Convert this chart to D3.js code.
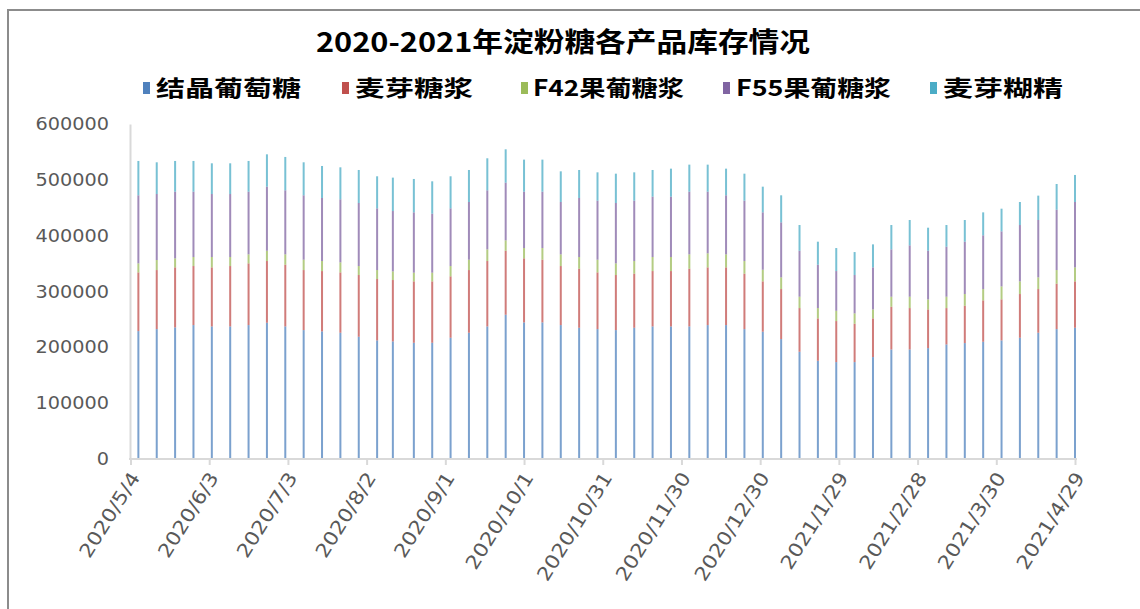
<!DOCTYPE html>
<html>
<head>
<meta charset="utf-8">
<script src="https://cdn.jsdelivr.net/npm/d3@7"></script>
<style>
  body { margin: 0; background: #fff; }
  svg { display: block; }
</style>
</head>
<body>
<svg id="chart" width="1140" height="609"></svg>
<script>
// weekly stock dates (Thursdays)
var dates = ["2020-05-07","2020-05-14","2020-05-21","2020-05-28","2020-06-04","2020-06-11","2020-06-18","2020-06-25",
  "2020-07-02","2020-07-09","2020-07-16","2020-07-23","2020-07-30","2020-08-06","2020-08-12","2020-08-20","2020-08-27",
  "2020-09-03","2020-09-10","2020-09-17","2020-09-24","2020-10-01","2020-10-08","2020-10-15","2020-10-22","2020-10-29",
  "2020-11-05","2020-11-12","2020-11-19","2020-11-26","2020-12-03","2020-12-10","2020-12-17","2020-12-24","2020-12-31",
  "2021-01-07","2021-01-14","2021-01-21","2021-01-28","2021-02-04","2021-02-11","2021-02-18","2021-02-25",
  "2021-03-04","2021-03-11","2021-03-18","2021-03-25","2021-04-01","2021-04-08","2021-04-15","2021-04-22","2021-04-29"];

var seriesNames = ["结晶葡萄糖", "麦芽糖浆", "F42果葡糖浆", "F55果葡糖浆", "麦芽糊精"];
var seriesColors = ["#4F81BD", "#C0504D", "#9BBB59", "#8064A2", "#4BACC6"];

var glucose = [228500,232100,235100,239300,236900,236900,239300,243500,236900,230300,228000,225600,218400,
  211800,210000,207600,207600,216600,225600,236900,257900,244100,244100,239300,234500,232100,230300,
  234500,236900,236900,236900,239300,239300,232100,227400,214200,191500,175300,172900,172900,181900,
  195600,195600,198000,204600,207000,209400,211800,216600,225600,232100,234500];
var maltSyrup = [105300,105900,107700,105900,105900,108300,110700,110700,110700,107700,108200,108200,110700,
  110100,110100,110100,110100,110100,112400,117300,114800,114900,112500,105900,105900,101700,98800,
  97000,99300,99300,103500,103500,103500,99400,90300,89700,78300,76000,73600,68800,69400,
  76600,74200,69400,65200,67000,74200,73600,78400,78300,81400,83200];
var f42 = [16200,18000,16200,16200,18600,16200,16200,18500,18600,18600,18000,18000,16100,
  16100,15500,15600,15600,18500,18600,20900,18600,18500,20900,21000,21000,22800,20900,
  22700,25200,25200,25800,25200,23400,22700,20900,21000,20400,18500,18500,18600,16100,
  18000,20400,18000,20400,21000,20300,23300,22700,21000,24500,25100];
var f55 = [122100,118400,119600,117200,113000,113000,112400,114900,114800,115500,113100,113100,113100,
  110700,108300,108200,105800,103500,103500,105900,103500,101100,101100,93900,105900,105900,108300,
  108300,108300,108300,112400,110600,105900,108300,102900,98700,82500,77800,71200,68800,75400,
  84900,92100,87300,89700,93900,96400,98700,101100,102900,108300,117300];
var maltodextrin = [61600,56900,55100,55100,55100,55100,55100,58000,59900,59200,57400,57400,59200,
  57500,59900,59900,58100,57500,57400,57500,59800,57500,57500,55000,50200,50800,52600,
  50800,47800,50200,48500,48500,47800,48400,46100,48500,46100,41300,41300,41200,41300,
  43700,45500,41300,38900,38900,41200,40700,41300,43700,46100,48500];

var yTicks = [0, 100000, 200000, 300000, 400000, 500000, 600000];
var xTickLabels = ["2020/5/4","2020/6/3","2020/7/3","2020/8/2","2020/9/1","2020/10/1","2020/10/31",
  "2020/11/30","2020/12/30","2021/1/29","2021/2/28","2021/3/30","2021/4/29"];

var svg = d3.select("#chart");
var parse = d3.utcParse("%Y-%m-%d");
var parseLabel = d3.utcParse("%Y/%m/%d");

var xscale = d3.scaleUtc()
  .domain([parseLabel("2020/5/4"), parseLabel("2021/4/29")])
  .range([130.5, 1075]);
var yscale = d3.scaleLinear().domain([0, 600000]).range([458.5, 124]);

// outer frame of the chart area
svg.append("path")
  .attr("d", "M8,612 L8,10 L1142,10")
  .attr("fill", "none")
  .attr("stroke", "#8c8c8c")
  .attr("stroke-width", 2);

// title
svg.append("text")
  .attr("x", 316).attr("y", 52)
  .attr("textLength", 494).attr("lengthAdjust", "spacingAndGlyphs")
  .style("font-family", "'Noto Sans CJK SC', sans-serif")
  .style("font-size", "27px").style("font-weight", "bold")
  .attr("fill", "#000")
  .text("2020-2021年淀粉糖各产品库存情况");

// legend
var legendPos = [{sq: 143, tx: 156, w: 145}, {sq: 342, tx: 355, w: 118}, {sq: 521, tx: 533, w: 151},
                 {sq: 723, tx: 736, w: 155}, {sq: 930, tx: 943, w: 120}];
var lg = svg.append("g");
seriesNames.forEach(function(name, i) {
  lg.append("rect")
    .attr("x", legendPos[i].sq).attr("y", 82)
    .attr("width", 7).attr("height", 12)
    .attr("fill", seriesColors[i]);
  lg.append("text")
    .attr("x", legendPos[i].tx).attr("y", 96)
    .attr("textLength", legendPos[i].w).attr("lengthAdjust", "spacingAndGlyphs")
    .style("font-family", "'Noto Sans CJK SC', sans-serif")
    .style("font-size", "22px").style("font-weight", "bold")
    .attr("fill", "#000")
    .text(name);
});

// stacked data
var rows = dates.map(function(d, i) {
  return { date: parse(d), s0: glucose[i], s1: maltSyrup[i], s2: f42[i], s3: f55[i], s4: maltodextrin[i] };
});
var stack = d3.stack().keys(["s0", "s1", "s2", "s3", "s4"]);
var layers = stack(rows);

var barW = 2;
svg.append("g").selectAll("g")
  .data(layers)
  .enter().append("g")
  .attr("fill", function(d, i) { return seriesColors[i]; })
  .attr("fill-opacity", 0.75)
  .selectAll("rect")
  .data(function(d) { return d; })
  .enter().append("rect")
  .attr("x", function(d) { return xscale(d.data.date) - barW / 2; })
  .attr("width", barW)
  .attr("y", function(d) { return yscale(d[1]); })
  .attr("height", function(d) { return yscale(d[0]) - yscale(d[1]); });

// y axis
var yAxis = svg.append("g")
  .attr("transform", "translate(130,0)")
  .call(d3.axisLeft(yscale).tickValues(yTicks).tickSize(0).tickPadding(21).tickFormat(d3.format("d")));
yAxis.select(".domain").attr("stroke", "#d9d9d9").attr("stroke-width", 2);
yAxis.selectAll("text")
  .style("font-family", "'DejaVu Sans', sans-serif")
  .style("font-size", "18px")
  .attr("fill", "#595959")
  .each(function() {
    d3.select(this)
      .attr("textLength", this.getComputedTextLength() * 1.07)
      .attr("lengthAdjust", "spacingAndGlyphs");
  });

// x axis
var xAxis = svg.append("g")
  .attr("transform", "translate(0,459)")
  .call(d3.axisBottom(xscale)
    .tickValues(xTickLabels.map(function(s) { return parseLabel(s); }))
    .tickSize(6)
    .tickFormat(function(d, i) { return xTickLabels[i]; }));
xAxis.select(".domain").attr("stroke", "#d9d9d9").attr("stroke-width", 2).attr("d", "M129,0H1077");
xAxis.selectAll(".tick line").attr("stroke", "#d9d9d9").attr("stroke-width", 2);
xAxis.selectAll(".tick text")
  .style("font-family", "'DejaVu Sans', sans-serif")
  .style("font-size", "19px")
  .attr("fill", "#595959")
  .attr("text-anchor", "end")
  .attr("x", 0).attr("y", 0).attr("dy", "0.35em")
  .attr("transform", "translate(4,15) rotate(-58)")
  .each(function() {
    d3.select(this)
      .attr("textLength", this.getComputedTextLength() * 1.13)
      .attr("lengthAdjust", "spacingAndGlyphs");
  });
</script>
</body>
</html>
